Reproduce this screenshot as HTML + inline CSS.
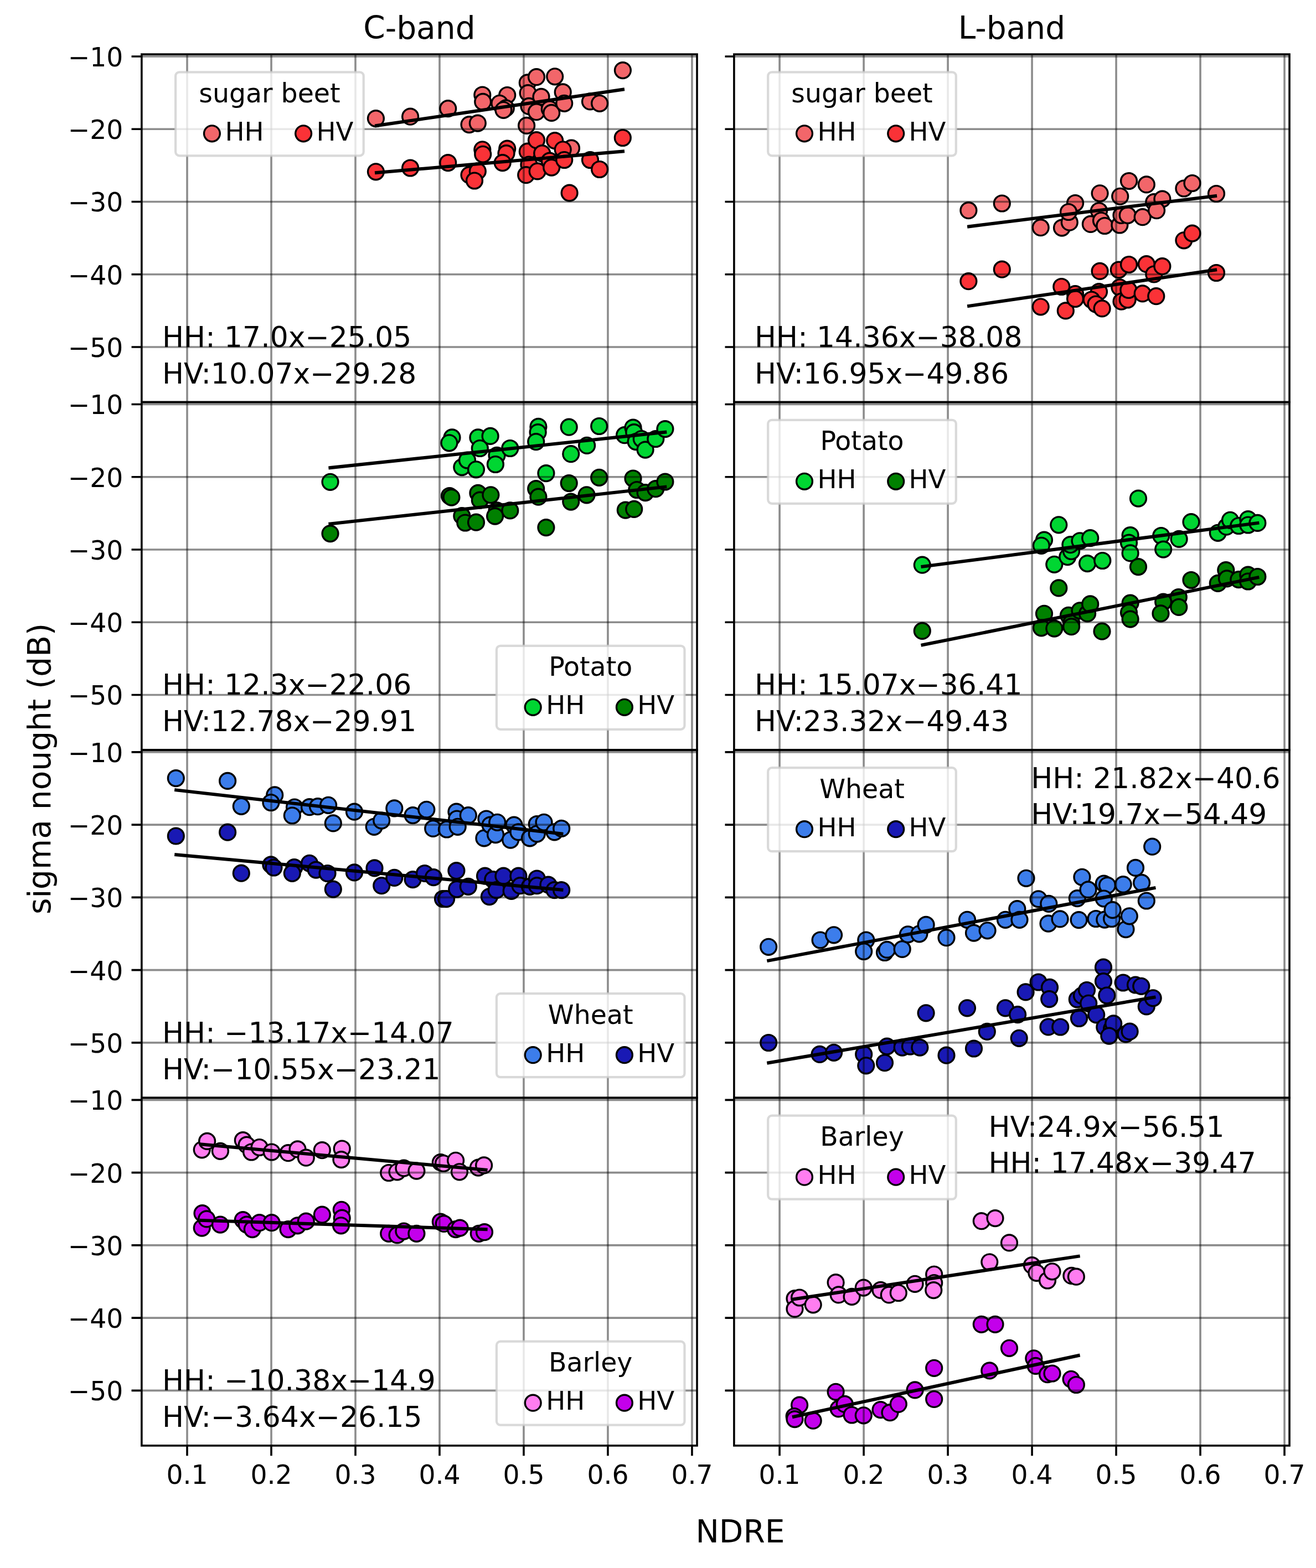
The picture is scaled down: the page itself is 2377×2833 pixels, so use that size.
<!DOCTYPE html>
<html lang="en"><head><meta charset="utf-8"><title>sigma nought vs NDRE</title>
<style>html,body{margin:0;padding:0;background:#fff;overflow:hidden}svg{display:block}</style></head>
<body>
<svg width="2377" height="2833" viewBox="0 0 2377 2833" font-family='"DejaVu Sans","Liberation Sans",sans-serif'>
<rect width="2377" height="2833" fill="#fff"/>
<defs>
<clipPath id="c00"><rect x="255.85" y="98.10" width="1003.15" height="628.45"/></clipPath>
<clipPath id="c01"><rect x="1325.9" y="98.10" width="1003.15" height="628.45"/></clipPath>
<clipPath id="c10"><rect x="255.85" y="726.55" width="1003.15" height="628.45"/></clipPath>
<clipPath id="c11"><rect x="1325.9" y="726.55" width="1003.15" height="628.45"/></clipPath>
<clipPath id="c20"><rect x="255.85" y="1355.00" width="1003.15" height="628.45"/></clipPath>
<clipPath id="c21"><rect x="1325.9" y="1355.00" width="1003.15" height="628.45"/></clipPath>
<clipPath id="c30"><rect x="255.85" y="1983.45" width="1003.15" height="628.45"/></clipPath>
<clipPath id="c31"><rect x="1325.9" y="1983.45" width="1003.15" height="628.45"/></clipPath>
</defs>
<g clip-path="url(#c00)">
<g fill="#f2666a" stroke="#000" stroke-width="3.4">
<circle cx="678.9" cy="214.1" r="14.4"/><circle cx="741.1" cy="210.7" r="14.4"/><circle cx="809.2" cy="196.2" r="14.4"/><circle cx="847.5" cy="225.1" r="14.4"/><circle cx="862.8" cy="222.6" r="14.4"/><circle cx="871.3" cy="171.5" r="14.4"/><circle cx="872.2" cy="183.9" r="14.4"/><circle cx="916.2" cy="172.0" r="14.4"/><circle cx="902.3" cy="186.8" r="14.4"/><circle cx="913.8" cy="195.4" r="14.4"/><circle cx="909.4" cy="198.8" r="14.4"/><circle cx="952.8" cy="149.4" r="14.4"/><circle cx="969.0" cy="139.2" r="14.4"/><circle cx="953.6" cy="168.1" r="14.4"/><circle cx="955.4" cy="191.9" r="14.4"/><circle cx="951.1" cy="226.9" r="14.4"/><circle cx="977.5" cy="174.9" r="14.4"/><circle cx="969.0" cy="202.2" r="14.4"/><circle cx="992.8" cy="197.1" r="14.4"/><circle cx="996.2" cy="203.9" r="14.4"/><circle cx="1002.2" cy="138.3" r="14.4"/><circle cx="1016.7" cy="166.4" r="14.4"/><circle cx="1019.2" cy="186.8" r="14.4"/><circle cx="1066.0" cy="183.4" r="14.4"/><circle cx="1083.1" cy="186.8" r="14.4"/><circle cx="1124.9" cy="127.1" r="14.4"/><circle cx="1032.0" cy="267.7" r="14.4"/>
</g>
<g fill="#fa3237" stroke="#000" stroke-width="3.4">
<circle cx="678.9" cy="310.3" r="14.4"/><circle cx="741.1" cy="303.5" r="14.4"/><circle cx="809.2" cy="294.1" r="14.4"/><circle cx="847.5" cy="316.2" r="14.4"/><circle cx="862.8" cy="309.4" r="14.4"/><circle cx="857.0" cy="326.5" r="14.4"/><circle cx="871.3" cy="270.3" r="14.4"/><circle cx="872.2" cy="278.8" r="14.4"/><circle cx="916.2" cy="268.6" r="14.4"/><circle cx="914.5" cy="277.1" r="14.4"/><circle cx="907.7" cy="294.1" r="14.4"/><circle cx="952.8" cy="273.7" r="14.4"/><circle cx="969.0" cy="253.2" r="14.4"/><circle cx="955.4" cy="297.5" r="14.4"/><circle cx="950.2" cy="316.2" r="14.4"/><circle cx="970.7" cy="309.4" r="14.4"/><circle cx="979.2" cy="277.1" r="14.4"/><circle cx="992.8" cy="290.7" r="14.4"/><circle cx="996.2" cy="302.6" r="14.4"/><circle cx="1002.2" cy="254.1" r="14.4"/><circle cx="1016.7" cy="270.3" r="14.4"/><circle cx="1019.2" cy="289.0" r="14.4"/><circle cx="1066.0" cy="289.0" r="14.4"/><circle cx="1083.1" cy="306.0" r="14.4"/><circle cx="1028.6" cy="348.6" r="14.4"/><circle cx="1124.8" cy="249.0" r="14.4"/>
</g>
<path d="M338.00 98.10V726.55M489.99 98.10V726.55M641.98 98.10V726.55M793.97 98.10V726.55M945.96 98.10V726.55M1097.95 98.10V726.55M1249.94 98.10V726.55" stroke="#000" stroke-opacity="0.45" stroke-width="3.6" fill="none"/>
<path d="M255.85 102.00H1259.00M255.85 233.25H1259.00M255.85 364.50H1259.00M255.85 495.75H1259.00M255.85 627.00H1259.00" stroke="#000" stroke-opacity="0.45" stroke-width="3.6" fill="none"/>
<line x1="680.0" y1="227.0" x2="1125.0" y2="161.7" stroke="#000" stroke-width="6.0" stroke-linecap="square"/>
<line x1="680.0" y1="312.1" x2="1125.0" y2="273.4" stroke="#000" stroke-width="6.0" stroke-linecap="square"/>
</g>
<g clip-path="url(#c01)">
<g fill="#f2666a" stroke="#000" stroke-width="3.4">
<circle cx="1749.4" cy="380.2" r="14.4"/><circle cx="1809.8" cy="367.5" r="14.4"/><circle cx="1879.7" cy="411.2" r="14.4"/><circle cx="1918.0" cy="411.6" r="14.4"/><circle cx="1931.8" cy="401.7" r="14.4"/><circle cx="1942.1" cy="367.0" r="14.4"/><circle cx="1930.0" cy="383.0" r="14.4"/><circle cx="1986.6" cy="349.3" r="14.4"/><circle cx="1985.0" cy="381.0" r="14.4"/><circle cx="1969.9" cy="404.9" r="14.4"/><circle cx="1989.0" cy="398.5" r="14.4"/><circle cx="1995.3" cy="408.0" r="14.4"/><circle cx="2023.2" cy="354.8" r="14.4"/><circle cx="2022.4" cy="406.5" r="14.4"/><circle cx="2025.5" cy="389.0" r="14.4"/><circle cx="2036.7" cy="389.0" r="14.4"/><circle cx="2039.0" cy="327.0" r="14.4"/><circle cx="2063.7" cy="392.2" r="14.4"/><circle cx="2070.8" cy="333.4" r="14.4"/><circle cx="2084.3" cy="365.2" r="14.4"/><circle cx="2099.4" cy="359.6" r="14.4"/><circle cx="2089.1" cy="380.2" r="14.4"/><circle cx="2138.4" cy="340.5" r="14.4"/><circle cx="2153.5" cy="331.0" r="14.4"/><circle cx="2197.0" cy="350.0" r="14.4"/>
</g>
<g fill="#fa3237" stroke="#000" stroke-width="3.4">
<circle cx="1749.4" cy="508.2" r="14.4"/><circle cx="1809.8" cy="486.7" r="14.4"/><circle cx="1879.7" cy="554.3" r="14.4"/><circle cx="1917.3" cy="518.0" r="14.4"/><circle cx="1924.8" cy="561.4" r="14.4"/><circle cx="1942.1" cy="531.2" r="14.4"/><circle cx="1942.1" cy="540.0" r="14.4"/><circle cx="1986.6" cy="489.9" r="14.4"/><circle cx="1985.0" cy="527.2" r="14.4"/><circle cx="1971.5" cy="541.5" r="14.4"/><circle cx="1979.5" cy="549.5" r="14.4"/><circle cx="1990.6" cy="557.4" r="14.4"/><circle cx="2020.8" cy="487.5" r="14.4"/><circle cx="2022.4" cy="519.3" r="14.4"/><circle cx="2025.5" cy="544.7" r="14.4"/><circle cx="2036.7" cy="541.5" r="14.4"/><circle cx="2039.0" cy="478.0" r="14.4"/><circle cx="2038.3" cy="524.0" r="14.4"/><circle cx="2063.7" cy="530.4" r="14.4"/><circle cx="2070.8" cy="477.2" r="14.4"/><circle cx="2084.3" cy="495.5" r="14.4"/><circle cx="2099.4" cy="481.2" r="14.4"/><circle cx="2088.3" cy="535.2" r="14.4"/><circle cx="2138.4" cy="434.3" r="14.4"/><circle cx="2153.5" cy="421.6" r="14.4"/><circle cx="2197.0" cy="493.0" r="14.4"/>
</g>
<path d="M1408.10 98.10V726.55M1560.09 98.10V726.55M1712.08 98.10V726.55M1864.07 98.10V726.55M2016.06 98.10V726.55M2168.05 98.10V726.55M2320.04 98.10V726.55" stroke="#000" stroke-opacity="0.45" stroke-width="3.6" fill="none"/>
<path d="M1325.90 102.00H2329.05M1325.90 233.25H2329.05M1325.90 364.50H2329.05M1325.90 495.75H2329.05M1325.90 627.00H2329.05" stroke="#000" stroke-opacity="0.45" stroke-width="3.6" fill="none"/>
<line x1="1750.1" y1="409.3" x2="2195.1" y2="354.1" stroke="#000" stroke-width="6.0" stroke-linecap="square"/>
<line x1="1750.1" y1="552.9" x2="2195.1" y2="487.7" stroke="#000" stroke-width="6.0" stroke-linecap="square"/>
</g>
<g clip-path="url(#c10)">
<g fill="#00d632" stroke="#000" stroke-width="3.4">
<circle cx="596.5" cy="870.8" r="14.4"/><circle cx="816.5" cy="790.4" r="14.4"/><circle cx="811.4" cy="800.3" r="14.4"/><circle cx="834.3" cy="844.1" r="14.4"/><circle cx="844.0" cy="831.5" r="14.4"/><circle cx="860.0" cy="848.3" r="14.4"/><circle cx="863.4" cy="790.4" r="14.4"/><circle cx="866.8" cy="810.0" r="14.4"/><circle cx="885.6" cy="787.9" r="14.4"/><circle cx="897.5" cy="822.8" r="14.4"/><circle cx="894.9" cy="839.0" r="14.4"/><circle cx="921.3" cy="810.0" r="14.4"/><circle cx="972.4" cy="770.9" r="14.4"/><circle cx="971.6" cy="781.1" r="14.4"/><circle cx="968.2" cy="798.1" r="14.4"/><circle cx="986.4" cy="855.1" r="14.4"/><circle cx="1027.7" cy="771.7" r="14.4"/><circle cx="1031.2" cy="820.2" r="14.4"/><circle cx="1060.1" cy="804.9" r="14.4"/><circle cx="1082.2" cy="770.0" r="14.4"/><circle cx="1128.1" cy="786.2" r="14.4"/><circle cx="1143.5" cy="772.6" r="14.4"/><circle cx="1145.2" cy="781.1" r="14.4"/><circle cx="1148.6" cy="798.1" r="14.4"/><circle cx="1158.8" cy="793.0" r="14.4"/><circle cx="1165.6" cy="812.6" r="14.4"/><circle cx="1184.3" cy="793.0" r="14.4"/><circle cx="1201.4" cy="775.1" r="14.4"/>
</g>
<g fill="#008000" stroke="#000" stroke-width="3.4">
<circle cx="596.5" cy="964.1" r="14.4"/><circle cx="812.0" cy="896.0" r="14.4"/><circle cx="815.4" cy="898.6" r="14.4"/><circle cx="834.3" cy="932.2" r="14.4"/><circle cx="840.3" cy="944.5" r="14.4"/><circle cx="860.0" cy="943.7" r="14.4"/><circle cx="863.4" cy="890.9" r="14.4"/><circle cx="866.8" cy="903.7" r="14.4"/><circle cx="886.4" cy="894.3" r="14.4"/><circle cx="897.5" cy="922.4" r="14.4"/><circle cx="894.1" cy="932.6" r="14.4"/><circle cx="921.3" cy="922.4" r="14.4"/><circle cx="968.2" cy="883.2" r="14.4"/><circle cx="972.4" cy="897.7" r="14.4"/><circle cx="986.4" cy="953.1" r="14.4"/><circle cx="1027.7" cy="873.0" r="14.4"/><circle cx="1031.2" cy="906.6" r="14.4"/><circle cx="1059.6" cy="894.3" r="14.4"/><circle cx="1082.2" cy="862.8" r="14.4"/><circle cx="1143.5" cy="864.5" r="14.4"/><circle cx="1129.8" cy="921.6" r="14.4"/><circle cx="1145.2" cy="919.9" r="14.4"/><circle cx="1150.3" cy="885.0" r="14.4"/><circle cx="1165.6" cy="890.1" r="14.4"/><circle cx="1184.3" cy="883.2" r="14.4"/><circle cx="1201.4" cy="870.5" r="14.4"/>
</g>
<path d="M338.00 726.55V1355.00M489.99 726.55V1355.00M641.98 726.55V1355.00M793.97 726.55V1355.00M945.96 726.55V1355.00M1097.95 726.55V1355.00M1249.94 726.55V1355.00" stroke="#000" stroke-opacity="0.45" stroke-width="3.6" fill="none"/>
<path d="M255.85 730.45H1259.00M255.85 861.70H1259.00M255.85 992.95H1259.00M255.85 1124.20H1259.00M255.85 1255.45H1259.00" stroke="#000" stroke-opacity="0.45" stroke-width="3.6" fill="none"/>
<line x1="596.4" y1="845.1" x2="1201.3" y2="780.9" stroke="#000" stroke-width="6.0" stroke-linecap="square"/>
<line x1="596.4" y1="946.5" x2="1201.3" y2="879.7" stroke="#000" stroke-width="6.0" stroke-linecap="square"/>
</g>
<g clip-path="url(#c11)">
<g fill="#00d632" stroke="#000" stroke-width="3.4">
<circle cx="1665.8" cy="1020.7" r="14.4"/><circle cx="1886.0" cy="975.6" r="14.4"/><circle cx="1880.9" cy="985.8" r="14.4"/><circle cx="1912.3" cy="948.3" r="14.4"/><circle cx="1904.3" cy="1019.8" r="14.4"/><circle cx="1928.3" cy="1006.2" r="14.4"/><circle cx="1935.1" cy="996.0" r="14.4"/><circle cx="1933.4" cy="984.1" r="14.4"/><circle cx="1950.5" cy="977.3" r="14.4"/><circle cx="1964.1" cy="1018.1" r="14.4"/><circle cx="1969.2" cy="972.2" r="14.4"/><circle cx="1991.3" cy="1013.0" r="14.4"/><circle cx="2041.6" cy="967.1" r="14.4"/><circle cx="2039.0" cy="980.7" r="14.4"/><circle cx="2041.6" cy="999.4" r="14.4"/><circle cx="2056.0" cy="900.6" r="14.4"/><circle cx="2097.3" cy="968.0" r="14.4"/><circle cx="2101.2" cy="992.6" r="14.4"/><circle cx="2129.6" cy="973.9" r="14.4"/><circle cx="2151.5" cy="943.2" r="14.4"/><circle cx="2199.8" cy="962.8" r="14.4"/><circle cx="2215.2" cy="951.7" r="14.4"/><circle cx="2222.0" cy="939.8" r="14.4"/><circle cx="2237.3" cy="950.0" r="14.4"/><circle cx="2254.3" cy="938.1" r="14.4"/><circle cx="2254.3" cy="948.5" r="14.4"/><circle cx="2271.4" cy="944.9" r="14.4"/>
</g>
<g fill="#008000" stroke="#000" stroke-width="3.4">
<circle cx="1665.8" cy="1139.9" r="14.4"/><circle cx="1886.0" cy="1108.8" r="14.4"/><circle cx="1880.9" cy="1134.3" r="14.4"/><circle cx="1912.3" cy="1062.4" r="14.4"/><circle cx="1904.3" cy="1135.6" r="14.4"/><circle cx="1930.0" cy="1111.8" r="14.4"/><circle cx="1935.1" cy="1125.4" r="14.4"/><circle cx="1935.1" cy="1132.2" r="14.4"/><circle cx="1950.5" cy="1103.3" r="14.4"/><circle cx="1964.1" cy="1108.4" r="14.4"/><circle cx="1969.2" cy="1091.4" r="14.4"/><circle cx="1990.5" cy="1140.7" r="14.4"/><circle cx="2041.6" cy="1089.6" r="14.4"/><circle cx="2039.0" cy="1106.7" r="14.4"/><circle cx="2041.6" cy="1118.6" r="14.4"/><circle cx="2056.0" cy="1024.1" r="14.4"/><circle cx="2101.2" cy="1087.5" r="14.4"/><circle cx="2096.5" cy="1108.4" r="14.4"/><circle cx="2128.8" cy="1079.0" r="14.4"/><circle cx="2129.2" cy="1096.9" r="14.4"/><circle cx="2151.5" cy="1048.0" r="14.4"/><circle cx="2199.8" cy="1053.9" r="14.4"/><circle cx="2214.3" cy="1030.1" r="14.4"/><circle cx="2216.0" cy="1045.4" r="14.4"/><circle cx="2237.3" cy="1047.1" r="14.4"/><circle cx="2254.3" cy="1038.6" r="14.4"/><circle cx="2254.3" cy="1050.5" r="14.4"/><circle cx="2271.4" cy="1042.0" r="14.4"/>
</g>
<path d="M1408.10 726.55V1355.00M1560.09 726.55V1355.00M1712.08 726.55V1355.00M1864.07 726.55V1355.00M2016.06 726.55V1355.00M2168.05 726.55V1355.00M2320.04 726.55V1355.00" stroke="#000" stroke-opacity="0.45" stroke-width="3.6" fill="none"/>
<path d="M1325.90 730.45H2329.05M1325.90 861.70H2329.05M1325.90 992.95H2329.05M1325.90 1124.20H2329.05M1325.90 1255.45H2329.05" stroke="#000" stroke-opacity="0.45" stroke-width="3.6" fill="none"/>
<line x1="1666.5" y1="1023.7" x2="2271.4" y2="945.0" stroke="#000" stroke-width="6.0" stroke-linecap="square"/>
<line x1="1666.5" y1="1165.3" x2="2271.4" y2="1043.5" stroke="#000" stroke-width="6.0" stroke-linecap="square"/>
</g>
<g clip-path="url(#c20)">
<g fill="#3c7deb" stroke="#000" stroke-width="3.4">
<circle cx="317.8" cy="1406.1" r="14.4"/><circle cx="411.1" cy="1410.9" r="14.4"/><circle cx="435.8" cy="1456.8" r="14.4"/><circle cx="496.2" cy="1436.4" r="14.4"/><circle cx="489.4" cy="1450.0" r="14.4"/><circle cx="532.0" cy="1458.5" r="14.4"/><circle cx="527.8" cy="1473.5" r="14.4"/><circle cx="559.0" cy="1458.2" r="14.4"/><circle cx="574.0" cy="1457.2" r="14.4"/><circle cx="593.1" cy="1454.8" r="14.4"/><circle cx="601.8" cy="1487.4" r="14.4"/><circle cx="640.0" cy="1466.7" r="14.4"/><circle cx="675.7" cy="1493.8" r="14.4"/><circle cx="689.2" cy="1482.6" r="14.4"/><circle cx="712.3" cy="1460.4" r="14.4"/><circle cx="745.6" cy="1473.1" r="14.4"/><circle cx="770.3" cy="1462.8" r="14.4"/><circle cx="782.2" cy="1496.9" r="14.4"/><circle cx="806.9" cy="1498.5" r="14.4"/><circle cx="824.4" cy="1466.7" r="14.4"/><circle cx="825.2" cy="1479.5" r="14.4"/><circle cx="826.7" cy="1493.8" r="14.4"/><circle cx="845.8" cy="1473.1" r="14.4"/><circle cx="878.4" cy="1479.5" r="14.4"/><circle cx="874.4" cy="1514.4" r="14.4"/><circle cx="885.5" cy="1490.6" r="14.4"/><circle cx="895.1" cy="1508.1" r="14.4"/><circle cx="898.2" cy="1485.8" r="14.4"/><circle cx="922.1" cy="1517.6" r="14.4"/><circle cx="928.4" cy="1490.6" r="14.4"/><circle cx="936.4" cy="1503.3" r="14.4"/><circle cx="957.0" cy="1514.4" r="14.4"/><circle cx="969.8" cy="1489.0" r="14.4"/><circle cx="969.8" cy="1506.5" r="14.4"/><circle cx="982.5" cy="1485.8" r="14.4"/><circle cx="1001.5" cy="1503.3" r="14.4"/><circle cx="1014.2" cy="1496.9" r="14.4"/>
</g>
<g fill="#1919b4" stroke="#000" stroke-width="3.4">
<circle cx="317.8" cy="1510.5" r="14.4"/><circle cx="411.1" cy="1503.7" r="14.4"/><circle cx="435.8" cy="1577.7" r="14.4"/><circle cx="489.4" cy="1562.4" r="14.4"/><circle cx="494.5" cy="1567.5" r="14.4"/><circle cx="531.5" cy="1567.1" r="14.4"/><circle cx="527.8" cy="1577.8" r="14.4"/><circle cx="559.0" cy="1559.8" r="14.4"/><circle cx="570.8" cy="1571.6" r="14.4"/><circle cx="591.5" cy="1578.0" r="14.4"/><circle cx="601.8" cy="1606.6" r="14.4"/><circle cx="640.0" cy="1576.4" r="14.4"/><circle cx="676.5" cy="1568.4" r="14.4"/><circle cx="689.2" cy="1600.2" r="14.4"/><circle cx="712.3" cy="1585.9" r="14.4"/><circle cx="745.6" cy="1589.1" r="14.4"/><circle cx="767.0" cy="1578.0" r="14.4"/><circle cx="783.0" cy="1585.1" r="14.4"/><circle cx="800.0" cy="1624.0" r="14.4"/><circle cx="806.1" cy="1624.1" r="14.4"/><circle cx="824.4" cy="1573.2" r="14.4"/><circle cx="825.2" cy="1606.6" r="14.4"/><circle cx="845.8" cy="1601.8" r="14.4"/><circle cx="876.0" cy="1582.7" r="14.4"/><circle cx="890.3" cy="1589.1" r="14.4"/><circle cx="883.9" cy="1620.1" r="14.4"/><circle cx="896.7" cy="1608.2" r="14.4"/><circle cx="909.4" cy="1582.7" r="14.4"/><circle cx="923.7" cy="1609.8" r="14.4"/><circle cx="936.4" cy="1582.7" r="14.4"/><circle cx="939.6" cy="1600.2" r="14.4"/><circle cx="957.0" cy="1601.8" r="14.4"/><circle cx="969.8" cy="1587.5" r="14.4"/><circle cx="969.8" cy="1600.2" r="14.4"/><circle cx="990.4" cy="1598.6" r="14.4"/><circle cx="1001.5" cy="1608.2" r="14.4"/><circle cx="1014.2" cy="1608.2" r="14.4"/>
</g>
<path d="M338.00 1355.00V1983.45M489.99 1355.00V1983.45M641.98 1355.00V1983.45M793.97 1355.00V1983.45M945.96 1355.00V1983.45M1097.95 1355.00V1983.45M1249.94 1355.00V1983.45" stroke="#000" stroke-opacity="0.45" stroke-width="3.6" fill="none"/>
<path d="M255.85 1358.90H1259.00M255.85 1490.15H1259.00M255.85 1621.40H1259.00M255.85 1752.65H1259.00M255.85 1883.90H1259.00" stroke="#000" stroke-opacity="0.45" stroke-width="3.6" fill="none"/>
<line x1="318.2" y1="1427.4" x2="1014.4" y2="1506.5" stroke="#000" stroke-width="6.0" stroke-linecap="square"/>
<line x1="318.2" y1="1544.3" x2="1014.4" y2="1607.7" stroke="#000" stroke-width="6.0" stroke-linecap="square"/>
</g>
<g clip-path="url(#c21)">
<g fill="#3c7deb" stroke="#000" stroke-width="3.4">
<circle cx="1388.2" cy="1710.8" r="14.4"/><circle cx="1481.6" cy="1698.5" r="14.4"/><circle cx="1506.1" cy="1689.3" r="14.4"/><circle cx="1564.3" cy="1698.5" r="14.4"/><circle cx="1560.2" cy="1719.0" r="14.4"/><circle cx="1598.0" cy="1721.0" r="14.4"/><circle cx="1602.1" cy="1715.9" r="14.4"/><circle cx="1629.7" cy="1714.9" r="14.4"/><circle cx="1639.9" cy="1688.3" r="14.4"/><circle cx="1660.4" cy="1687.3" r="14.4"/><circle cx="1672.6" cy="1670.9" r="14.4"/><circle cx="1709.5" cy="1694.2" r="14.4"/><circle cx="1747.0" cy="1661.8" r="14.4"/><circle cx="1759.0" cy="1685.6" r="14.4"/><circle cx="1783.6" cy="1681.3" r="14.4"/><circle cx="1816.0" cy="1661.8" r="14.4"/><circle cx="1837.3" cy="1642.2" r="14.4"/><circle cx="1841.5" cy="1661.8" r="14.4"/><circle cx="1853.5" cy="1586.8" r="14.4"/><circle cx="1875.6" cy="1624.3" r="14.4"/><circle cx="1894.3" cy="1632.8" r="14.4"/><circle cx="1893.5" cy="1668.6" r="14.4"/><circle cx="1914.6" cy="1660.4" r="14.4"/><circle cx="1945.8" cy="1623.1" r="14.4"/><circle cx="1948.6" cy="1662.1" r="14.4"/><circle cx="1954.4" cy="1584.8" r="14.4"/><circle cx="1965.5" cy="1607.4" r="14.4"/><circle cx="1979.5" cy="1660.0" r="14.4"/><circle cx="1993.8" cy="1596.5" r="14.4"/><circle cx="2000.1" cy="1599.6" r="14.4"/><circle cx="1993.8" cy="1623.5" r="14.4"/><circle cx="1995.3" cy="1661.6" r="14.4"/><circle cx="2008.1" cy="1660.0" r="14.4"/><circle cx="2009.6" cy="1644.1" r="14.4"/><circle cx="2028.7" cy="1598.1" r="14.4"/><circle cx="2033.5" cy="1679.1" r="14.4"/><circle cx="2039.8" cy="1655.3" r="14.4"/><circle cx="2051.0" cy="1567.9" r="14.4"/><circle cx="2062.1" cy="1594.9" r="14.4"/><circle cx="2070.8" cy="1627.5" r="14.4"/><circle cx="2081.2" cy="1529.7" r="14.4"/>
</g>
<g fill="#1919b4" stroke="#000" stroke-width="3.4">
<circle cx="1388.2" cy="1884.0" r="14.4"/><circle cx="1480.6" cy="1904.9" r="14.4"/><circle cx="1506.1" cy="1901.8" r="14.4"/><circle cx="1560.2" cy="1904.9" r="14.4"/><circle cx="1564.3" cy="1925.3" r="14.4"/><circle cx="1598.0" cy="1920.2" r="14.4"/><circle cx="1602.1" cy="1890.6" r="14.4"/><circle cx="1629.7" cy="1892.6" r="14.4"/><circle cx="1644.0" cy="1890.6" r="14.4"/><circle cx="1661.4" cy="1892.6" r="14.4"/><circle cx="1672.6" cy="1830.3" r="14.4"/><circle cx="1709.5" cy="1906.7" r="14.4"/><circle cx="1747.0" cy="1821.3" r="14.4"/><circle cx="1759.0" cy="1894.5" r="14.4"/><circle cx="1782.8" cy="1863.9" r="14.4"/><circle cx="1816.0" cy="1821.3" r="14.4"/><circle cx="1838.1" cy="1833.2" r="14.4"/><circle cx="1840.7" cy="1875.8" r="14.4"/><circle cx="1852.6" cy="1792.4" r="14.4"/><circle cx="1875.6" cy="1774.5" r="14.4"/><circle cx="1896.0" cy="1783.9" r="14.4"/><circle cx="1895.2" cy="1805.1" r="14.4"/><circle cx="1893.5" cy="1855.4" r="14.4"/><circle cx="1915.3" cy="1855.5" r="14.4"/><circle cx="1949.0" cy="1840.0" r="14.4"/><circle cx="1945.8" cy="1805.5" r="14.4"/><circle cx="1954.0" cy="1798.8" r="14.4"/><circle cx="1963.0" cy="1789.0" r="14.4"/><circle cx="1966.2" cy="1812.8" r="14.4"/><circle cx="1980.2" cy="1833.3" r="14.4"/><circle cx="1993.0" cy="1747.7" r="14.4"/><circle cx="1993.0" cy="1773.1" r="14.4"/><circle cx="1999.3" cy="1798.5" r="14.4"/><circle cx="1995.3" cy="1855.7" r="14.4"/><circle cx="2008.1" cy="1858.9" r="14.4"/><circle cx="2011.2" cy="1849.4" r="14.4"/><circle cx="2003.3" cy="1871.6" r="14.4"/><circle cx="2028.7" cy="1775.5" r="14.4"/><circle cx="2033.5" cy="1868.4" r="14.4"/><circle cx="2040.6" cy="1863.7" r="14.4"/><circle cx="2051.0" cy="1779.5" r="14.4"/><circle cx="2061.3" cy="1781.8" r="14.4"/><circle cx="2070.8" cy="1818.4" r="14.4"/><circle cx="2082.7" cy="1803.3" r="14.4"/>
</g>
<path d="M1408.10 1355.00V1983.45M1560.09 1355.00V1983.45M1712.08 1355.00V1983.45M1864.07 1355.00V1983.45M2016.06 1355.00V1983.45M2168.05 1355.00V1983.45M2320.04 1355.00V1983.45" stroke="#000" stroke-opacity="0.45" stroke-width="3.6" fill="none"/>
<path d="M1325.90 1358.90H2329.05M1325.90 1490.15H2329.05M1325.90 1621.40H2329.05M1325.90 1752.65H2329.05M1325.90 1883.90H2329.05" stroke="#000" stroke-opacity="0.45" stroke-width="3.6" fill="none"/>
<line x1="1388.3" y1="1735.6" x2="2084.5" y2="1604.4" stroke="#000" stroke-width="6.0" stroke-linecap="square"/>
<line x1="1388.3" y1="1920.3" x2="2084.5" y2="1801.9" stroke="#000" stroke-width="6.0" stroke-linecap="square"/>
</g>
<g clip-path="url(#c30)">
<g fill="#ff7df0" stroke="#000" stroke-width="3.4">
<circle cx="364.7" cy="2077.3" r="14.4"/><circle cx="374.1" cy="2061.9" r="14.4"/><circle cx="397.9" cy="2079.8" r="14.4"/><circle cx="438.8" cy="2060.2" r="14.4"/><circle cx="445.6" cy="2068.7" r="14.4"/><circle cx="454.1" cy="2081.5" r="14.4"/><circle cx="468.6" cy="2073.0" r="14.4"/><circle cx="490.7" cy="2081.5" r="14.4"/><circle cx="520.5" cy="2083.2" r="14.4"/><circle cx="537.5" cy="2076.4" r="14.4"/><circle cx="552.8" cy="2091.7" r="14.4"/><circle cx="581.8" cy="2078.1" r="14.4"/><circle cx="617.7" cy="2075.5" r="14.4"/><circle cx="616.4" cy="2095.1" r="14.4"/><circle cx="702.2" cy="2119.0" r="14.4"/><circle cx="717.5" cy="2117.3" r="14.4"/><circle cx="729.4" cy="2110.5" r="14.4"/><circle cx="752.4" cy="2115.6" r="14.4"/><circle cx="795.8" cy="2100.2" r="14.4"/><circle cx="801.0" cy="2102.0" r="14.4"/><circle cx="823.1" cy="2096.8" r="14.4"/><circle cx="829.9" cy="2117.3" r="14.4"/><circle cx="863.9" cy="2109.6" r="14.4"/><circle cx="874.1" cy="2105.4" r="14.4"/>
</g>
<g fill="#c300eb" stroke="#000" stroke-width="3.4">
<circle cx="365.5" cy="2192.2" r="14.4"/><circle cx="364.7" cy="2218.6" r="14.4"/><circle cx="373.2" cy="2202.4" r="14.4"/><circle cx="397.9" cy="2212.6" r="14.4"/><circle cx="438.8" cy="2204.1" r="14.4"/><circle cx="445.6" cy="2212.6" r="14.4"/><circle cx="455.8" cy="2221.1" r="14.4"/><circle cx="468.6" cy="2209.2" r="14.4"/><circle cx="490.7" cy="2209.2" r="14.4"/><circle cx="520.5" cy="2221.1" r="14.4"/><circle cx="537.5" cy="2214.3" r="14.4"/><circle cx="552.8" cy="2206.7" r="14.4"/><circle cx="581.8" cy="2194.7" r="14.4"/><circle cx="616.8" cy="2185.8" r="14.4"/><circle cx="617.7" cy="2200.7" r="14.4"/><circle cx="616.0" cy="2214.3" r="14.4"/><circle cx="702.2" cy="2228.8" r="14.4"/><circle cx="717.5" cy="2231.4" r="14.4"/><circle cx="729.4" cy="2224.5" r="14.4"/><circle cx="752.4" cy="2228.8" r="14.4"/><circle cx="795.8" cy="2207.5" r="14.4"/><circle cx="801.8" cy="2210.9" r="14.4"/><circle cx="823.1" cy="2221.1" r="14.4"/><circle cx="830.7" cy="2218.6" r="14.4"/><circle cx="864.8" cy="2228.8" r="14.4"/><circle cx="875.0" cy="2226.2" r="14.4"/>
</g>
<path d="M338.00 1983.45V2611.90M489.99 1983.45V2611.90M641.98 1983.45V2611.90M793.97 1983.45V2611.90M945.96 1983.45V2611.90M1097.95 1983.45V2611.90M1249.94 1983.45V2611.90" stroke="#000" stroke-opacity="0.45" stroke-width="3.6" fill="none"/>
<path d="M255.85 1987.35H1259.00M255.85 2118.60H1259.00M255.85 2249.85H1259.00M255.85 2381.10H1259.00M255.85 2512.35H1259.00" stroke="#000" stroke-opacity="0.45" stroke-width="3.6" fill="none"/>
<line x1="363.8" y1="2067.6" x2="877.6" y2="2113.7" stroke="#000" stroke-width="6.0" stroke-linecap="square"/>
<line x1="363.8" y1="2204.9" x2="877.6" y2="2221.1" stroke="#000" stroke-width="6.0" stroke-linecap="square"/>
</g>
<g clip-path="url(#c31)">
<g fill="#ff7df0" stroke="#000" stroke-width="3.4">
<circle cx="1435.5" cy="2346.2" r="14.4"/><circle cx="1435.5" cy="2364.9" r="14.4"/><circle cx="1444.1" cy="2344.5" r="14.4"/><circle cx="1468.7" cy="2357.3" r="14.4"/><circle cx="1509.6" cy="2317.2" r="14.4"/><circle cx="1514.7" cy="2339.4" r="14.4"/><circle cx="1538.6" cy="2342.8" r="14.4"/><circle cx="1559.8" cy="2326.6" r="14.4"/><circle cx="1590.5" cy="2330.9" r="14.4"/><circle cx="1605.8" cy="2339.4" r="14.4"/><circle cx="1622.8" cy="2336.0" r="14.4"/><circle cx="1652.6" cy="2319.8" r="14.4"/><circle cx="1687.2" cy="2302.5" r="14.4"/><circle cx="1687.2" cy="2318.0" r="14.4"/><circle cx="1686.3" cy="2331.1" r="14.4"/><circle cx="1772.8" cy="2206.2" r="14.4"/><circle cx="1797.5" cy="2201.1" r="14.4"/><circle cx="1787.3" cy="2280.3" r="14.4"/><circle cx="1823.0" cy="2245.4" r="14.4"/><circle cx="1863.9" cy="2286.2" r="14.4"/><circle cx="1872.4" cy="2299.8" r="14.4"/><circle cx="1892.0" cy="2313.5" r="14.4"/><circle cx="1900.5" cy="2297.3" r="14.4"/><circle cx="1935.4" cy="2304.9" r="14.4"/><circle cx="1943.9" cy="2306.7" r="14.4"/>
</g>
<g fill="#c300eb" stroke="#000" stroke-width="3.4">
<circle cx="1444.1" cy="2538.6" r="14.4"/><circle cx="1434.7" cy="2559.0" r="14.4"/><circle cx="1435.5" cy="2564.1" r="14.4"/><circle cx="1468.7" cy="2566.7" r="14.4"/><circle cx="1509.6" cy="2514.8" r="14.4"/><circle cx="1514.7" cy="2545.4" r="14.4"/><circle cx="1525.8" cy="2536.9" r="14.4"/><circle cx="1538.6" cy="2556.5" r="14.4"/><circle cx="1559.8" cy="2557.3" r="14.4"/><circle cx="1590.5" cy="2547.1" r="14.4"/><circle cx="1607.5" cy="2552.2" r="14.4"/><circle cx="1622.8" cy="2536.9" r="14.4"/><circle cx="1652.6" cy="2511.4" r="14.4"/><circle cx="1687.2" cy="2471.8" r="14.4"/><circle cx="1687.2" cy="2528.0" r="14.4"/><circle cx="1772.8" cy="2392.8" r="14.4"/><circle cx="1797.5" cy="2392.8" r="14.4"/><circle cx="1787.3" cy="2476.4" r="14.4"/><circle cx="1823.0" cy="2435.8" r="14.4"/><circle cx="1867.3" cy="2454.3" r="14.4"/><circle cx="1870.7" cy="2467.9" r="14.4"/><circle cx="1892.0" cy="2483.2" r="14.4"/><circle cx="1900.5" cy="2481.5" r="14.4"/><circle cx="1934.6" cy="2491.8" r="14.4"/><circle cx="1943.9" cy="2502.0" r="14.4"/>
</g>
<path d="M1408.10 1983.45V2611.90M1560.09 1983.45V2611.90M1712.08 1983.45V2611.90M1864.07 1983.45V2611.90M2016.06 1983.45V2611.90M2168.05 1983.45V2611.90M2320.04 1983.45V2611.90" stroke="#000" stroke-opacity="0.45" stroke-width="3.6" fill="none"/>
<path d="M1325.90 1987.35H2329.05M1325.90 2118.60H2329.05M1325.90 2249.85H2329.05M1325.90 2381.10H2329.05M1325.90 2512.35H2329.05" stroke="#000" stroke-opacity="0.45" stroke-width="3.6" fill="none"/>
<line x1="1433.9" y1="2347.3" x2="1947.7" y2="2269.8" stroke="#000" stroke-width="6.0" stroke-linecap="square"/>
<line x1="1433.9" y1="2559.6" x2="1947.7" y2="2449.1" stroke="#000" stroke-width="6.0" stroke-linecap="square"/>
</g>
<text x="293.1" y="626.8" font-size="51.9" xml:space="preserve">HH: 17.0x−25.05</text>
<text x="293.1" y="692.6" font-size="51.9" xml:space="preserve">HV:10.07x−29.28</text>
<text x="1363.1" y="626.8" font-size="51.9" xml:space="preserve">HH: 14.36x−38.08</text>
<text x="1363.1" y="692.6" font-size="51.9" xml:space="preserve">HV:16.95x−49.86</text>
<text x="293.1" y="1255.2" font-size="51.9" xml:space="preserve">HH: 12.3x−22.06</text>
<text x="293.1" y="1321.1" font-size="51.9" xml:space="preserve">HV:12.78x−29.91</text>
<text x="1363.1" y="1255.2" font-size="51.9" xml:space="preserve">HH: 15.07x−36.41</text>
<text x="1363.1" y="1321.1" font-size="51.9" xml:space="preserve">HV:23.32x−49.43</text>
<text x="293.1" y="1883.7" font-size="51.9" xml:space="preserve">HH: −13.17x−14.07</text>
<text x="293.1" y="1949.5" font-size="51.9" xml:space="preserve">HV:−10.55x−23.21</text>
<text x="1862.3" y="1424.3" font-size="51.9" xml:space="preserve">HH: 21.82x−40.6</text>
<text x="1862.3" y="1489.1" font-size="51.9" xml:space="preserve">HV:19.7x−54.49</text>
<text x="293.1" y="2512.2" font-size="51.9" xml:space="preserve">HH: −10.38x−14.9</text>
<text x="293.1" y="2577.9" font-size="51.9" xml:space="preserve">HV:−3.64x−26.15</text>
<text x="1785.5" y="2054.1" font-size="51.9" xml:space="preserve">HV:24.9x−56.51</text>
<text x="1785.5" y="2118.5" font-size="51.9" xml:space="preserve">HH: 17.48x−39.47</text>
<rect x="317.1" y="130.3" width="339.6" height="151.0" rx="7" ry="7" fill="#fff" fill-opacity="0.8" stroke="#ccc" stroke-opacity="0.75" stroke-width="4.2"/>
<text x="486.9" y="184.9" font-size="47.4" text-anchor="middle">sugar beet</text>
<circle cx="382.9" cy="241.3" r="14.4" fill="#f2666a" stroke="#000" stroke-width="3.4" />
<text x="406.4" y="253.7" font-size="46.6">HH</text>
<circle cx="548.1" cy="241.3" r="14.4" fill="#fa3237" stroke="#000" stroke-width="3.4" />
<text x="571.5" y="253.7" font-size="46.6">HV</text>
<rect x="1387.2" y="130.3" width="339.6" height="151.0" rx="7" ry="7" fill="#fff" fill-opacity="0.8" stroke="#ccc" stroke-opacity="0.75" stroke-width="4.2"/>
<text x="1557.0" y="184.9" font-size="47.4" text-anchor="middle">sugar beet</text>
<circle cx="1453.0" cy="241.3" r="14.4" fill="#f2666a" stroke="#000" stroke-width="3.4" />
<text x="1476.5" y="253.7" font-size="46.6">HH</text>
<circle cx="1618.2" cy="241.3" r="14.4" fill="#fa3237" stroke="#000" stroke-width="3.4" />
<text x="1641.5" y="253.7" font-size="46.6">HV</text>
<rect x="896.9" y="1166.8" width="339.6" height="151.0" rx="7" ry="7" fill="#fff" fill-opacity="0.8" stroke="#ccc" stroke-opacity="0.75" stroke-width="4.2"/>
<text x="1066.7" y="1221.3" font-size="47.4" text-anchor="middle">Potato</text>
<circle cx="962.7" cy="1277.8" r="14.4" fill="#00d632" stroke="#000" stroke-width="3.4" />
<text x="986.2" y="1290.2" font-size="46.6">HH</text>
<circle cx="1127.9" cy="1277.8" r="14.4" fill="#008000" stroke="#000" stroke-width="3.4" />
<text x="1151.2" y="1290.2" font-size="46.6">HV</text>
<rect x="1387.2" y="758.8" width="339.6" height="151.0" rx="7" ry="7" fill="#fff" fill-opacity="0.8" stroke="#ccc" stroke-opacity="0.75" stroke-width="4.2"/>
<text x="1557.0" y="813.4" font-size="47.4" text-anchor="middle">Potato</text>
<circle cx="1453.0" cy="869.8" r="14.4" fill="#00d632" stroke="#000" stroke-width="3.4" />
<text x="1476.5" y="882.2" font-size="46.6">HH</text>
<circle cx="1618.2" cy="869.8" r="14.4" fill="#008000" stroke="#000" stroke-width="3.4" />
<text x="1641.5" y="882.2" font-size="46.6">HV</text>
<rect x="896.9" y="1795.2" width="339.6" height="151.0" rx="7" ry="7" fill="#fff" fill-opacity="0.8" stroke="#ccc" stroke-opacity="0.75" stroke-width="4.2"/>
<text x="1066.7" y="1849.8" font-size="47.4" text-anchor="middle">Wheat</text>
<circle cx="962.7" cy="1906.2" r="14.4" fill="#3c7deb" stroke="#000" stroke-width="3.4" />
<text x="986.2" y="1918.6" font-size="46.6">HH</text>
<circle cx="1127.9" cy="1906.2" r="14.4" fill="#1919b4" stroke="#000" stroke-width="3.4" />
<text x="1151.2" y="1918.6" font-size="46.6">HV</text>
<rect x="1387.2" y="1387.2" width="339.6" height="151.0" rx="7" ry="7" fill="#fff" fill-opacity="0.8" stroke="#ccc" stroke-opacity="0.75" stroke-width="4.2"/>
<text x="1557.0" y="1441.8" font-size="47.4" text-anchor="middle">Wheat</text>
<circle cx="1453.0" cy="1498.2" r="14.4" fill="#3c7deb" stroke="#000" stroke-width="3.4" />
<text x="1476.5" y="1510.6" font-size="46.6">HH</text>
<circle cx="1618.2" cy="1498.2" r="14.4" fill="#1919b4" stroke="#000" stroke-width="3.4" />
<text x="1641.5" y="1510.6" font-size="46.6">HV</text>
<rect x="896.9" y="2423.7" width="339.6" height="151.0" rx="7" ry="7" fill="#fff" fill-opacity="0.8" stroke="#ccc" stroke-opacity="0.75" stroke-width="4.2"/>
<text x="1066.7" y="2478.2" font-size="47.4" text-anchor="middle">Barley</text>
<circle cx="962.7" cy="2534.7" r="14.4" fill="#ff7df0" stroke="#000" stroke-width="3.4" />
<text x="986.2" y="2547.1" font-size="46.6">HH</text>
<circle cx="1127.9" cy="2534.7" r="14.4" fill="#c300eb" stroke="#000" stroke-width="3.4" />
<text x="1151.2" y="2547.1" font-size="46.6">HV</text>
<rect x="1387.2" y="2015.7" width="339.6" height="151.0" rx="7" ry="7" fill="#fff" fill-opacity="0.8" stroke="#ccc" stroke-opacity="0.75" stroke-width="4.2"/>
<text x="1557.0" y="2070.2" font-size="47.4" text-anchor="middle">Barley</text>
<circle cx="1453.0" cy="2126.7" r="14.4" fill="#ff7df0" stroke="#000" stroke-width="3.4" />
<text x="1476.5" y="2139.1" font-size="46.6">HH</text>
<circle cx="1618.2" cy="2126.7" r="14.4" fill="#c300eb" stroke="#000" stroke-width="3.4" />
<text x="1641.5" y="2139.1" font-size="46.6">HV</text>
<path d="M255.85 102.00h-18.30M255.85 233.25h-18.30M255.85 364.50h-18.30M255.85 495.75h-18.30M255.85 627.00h-18.30" stroke="#000" stroke-width="3.6" fill="none"/>
<rect x="255.85" y="98.10" width="1003.15" height="628.45" fill="none" stroke="#000" stroke-width="3.6"/>
<path d="M1325.90 102.00h-16.40M1325.90 233.25h-16.40M1325.90 364.50h-16.40M1325.90 495.75h-16.40M1325.90 627.00h-16.40" stroke="#000" stroke-width="3.6" fill="none"/>
<rect x="1325.9" y="98.10" width="1003.15" height="628.45" fill="none" stroke="#000" stroke-width="3.6"/>
<path d="M255.85 730.45h-18.30M255.85 861.70h-18.30M255.85 992.95h-18.30M255.85 1124.20h-18.30M255.85 1255.45h-18.30" stroke="#000" stroke-width="3.6" fill="none"/>
<rect x="255.85" y="726.55" width="1003.15" height="628.45" fill="none" stroke="#000" stroke-width="3.6"/>
<path d="M1325.90 730.45h-16.40M1325.90 861.70h-16.40M1325.90 992.95h-16.40M1325.90 1124.20h-16.40M1325.90 1255.45h-16.40" stroke="#000" stroke-width="3.6" fill="none"/>
<rect x="1325.9" y="726.55" width="1003.15" height="628.45" fill="none" stroke="#000" stroke-width="3.6"/>
<path d="M255.85 1358.90h-18.30M255.85 1490.15h-18.30M255.85 1621.40h-18.30M255.85 1752.65h-18.30M255.85 1883.90h-18.30" stroke="#000" stroke-width="3.6" fill="none"/>
<rect x="255.85" y="1355.00" width="1003.15" height="628.45" fill="none" stroke="#000" stroke-width="3.6"/>
<path d="M1325.90 1358.90h-16.40M1325.90 1490.15h-16.40M1325.90 1621.40h-16.40M1325.90 1752.65h-16.40M1325.90 1883.90h-16.40" stroke="#000" stroke-width="3.6" fill="none"/>
<rect x="1325.9" y="1355.00" width="1003.15" height="628.45" fill="none" stroke="#000" stroke-width="3.6"/>
<path d="M255.85 1987.35h-18.30M255.85 2118.60h-18.30M255.85 2249.85h-18.30M255.85 2381.10h-18.30M255.85 2512.35h-18.30M338.00 2611.90v18.30M489.99 2611.90v18.30M641.98 2611.90v18.30M793.97 2611.90v18.30M945.96 2611.90v18.30M1097.95 2611.90v18.30M1249.94 2611.90v18.30" stroke="#000" stroke-width="3.6" fill="none"/>
<rect x="255.85" y="1983.45" width="1003.15" height="628.45" fill="none" stroke="#000" stroke-width="3.6"/>
<path d="M1325.90 1987.35h-16.40M1325.90 2118.60h-16.40M1325.90 2249.85h-16.40M1325.90 2381.10h-16.40M1325.90 2512.35h-16.40M1408.10 2611.90v18.30M1560.09 2611.90v18.30M1712.08 2611.90v18.30M1864.07 2611.90v18.30M2016.06 2611.90v18.30M2168.05 2611.90v18.30M2320.04 2611.90v18.30" stroke="#000" stroke-width="3.6" fill="none"/>
<rect x="1325.9" y="1983.45" width="1003.15" height="628.45" fill="none" stroke="#000" stroke-width="3.6"/>
<text x="222.3" y="119.9" font-size="47.2" text-anchor="end">−10</text>
<text x="222.3" y="251.2" font-size="47.2" text-anchor="end">−20</text>
<text x="222.3" y="382.4" font-size="47.2" text-anchor="end">−30</text>
<text x="222.3" y="513.6" font-size="47.2" text-anchor="end">−40</text>
<text x="222.3" y="644.9" font-size="47.2" text-anchor="end">−50</text>
<text x="222.3" y="748.4" font-size="47.2" text-anchor="end">−10</text>
<text x="222.3" y="879.6" font-size="47.2" text-anchor="end">−20</text>
<text x="222.3" y="1010.9" font-size="47.2" text-anchor="end">−30</text>
<text x="222.3" y="1142.1" font-size="47.2" text-anchor="end">−40</text>
<text x="222.3" y="1273.4" font-size="47.2" text-anchor="end">−50</text>
<text x="222.3" y="1376.8" font-size="47.2" text-anchor="end">−10</text>
<text x="222.3" y="1508.1" font-size="47.2" text-anchor="end">−20</text>
<text x="222.3" y="1639.3" font-size="47.2" text-anchor="end">−30</text>
<text x="222.3" y="1770.6" font-size="47.2" text-anchor="end">−40</text>
<text x="222.3" y="1901.8" font-size="47.2" text-anchor="end">−50</text>
<text x="222.3" y="2005.3" font-size="47.2" text-anchor="end">−10</text>
<text x="222.3" y="2136.5" font-size="47.2" text-anchor="end">−20</text>
<text x="222.3" y="2267.8" font-size="47.2" text-anchor="end">−30</text>
<text x="222.3" y="2399.0" font-size="47.2" text-anchor="end">−40</text>
<text x="222.3" y="2530.3" font-size="47.2" text-anchor="end">−50</text>
<text x="338.0" y="2680.7" font-size="47.2" text-anchor="middle">0.1</text>
<text x="490.0" y="2680.7" font-size="47.2" text-anchor="middle">0.2</text>
<text x="642.0" y="2680.7" font-size="47.2" text-anchor="middle">0.3</text>
<text x="794.0" y="2680.7" font-size="47.2" text-anchor="middle">0.4</text>
<text x="946.0" y="2680.7" font-size="47.2" text-anchor="middle">0.5</text>
<text x="1098.0" y="2680.7" font-size="47.2" text-anchor="middle">0.6</text>
<text x="1249.9" y="2680.7" font-size="47.2" text-anchor="middle">0.7</text>
<text x="1408.1" y="2680.7" font-size="47.2" text-anchor="middle">0.1</text>
<text x="1560.1" y="2680.7" font-size="47.2" text-anchor="middle">0.2</text>
<text x="1712.1" y="2680.7" font-size="47.2" text-anchor="middle">0.3</text>
<text x="1864.1" y="2680.7" font-size="47.2" text-anchor="middle">0.4</text>
<text x="2016.1" y="2680.7" font-size="47.2" text-anchor="middle">0.5</text>
<text x="2168.1" y="2680.7" font-size="47.2" text-anchor="middle">0.6</text>
<text x="2320.0" y="2680.7" font-size="47.2" text-anchor="middle">0.7</text>
<text x="757.4" y="69.9" font-size="56.6" text-anchor="middle">C-band</text>
<text x="1827.5" y="69.9" font-size="56.6" text-anchor="middle">L-band</text>
<text x="1337" y="2787" font-size="56.6" text-anchor="middle">NDRE</text>
<text transform="translate(91.3 1389) rotate(-90)" font-size="56.6" text-anchor="middle">sigma nought (dB)</text>
</svg>
</body></html>
